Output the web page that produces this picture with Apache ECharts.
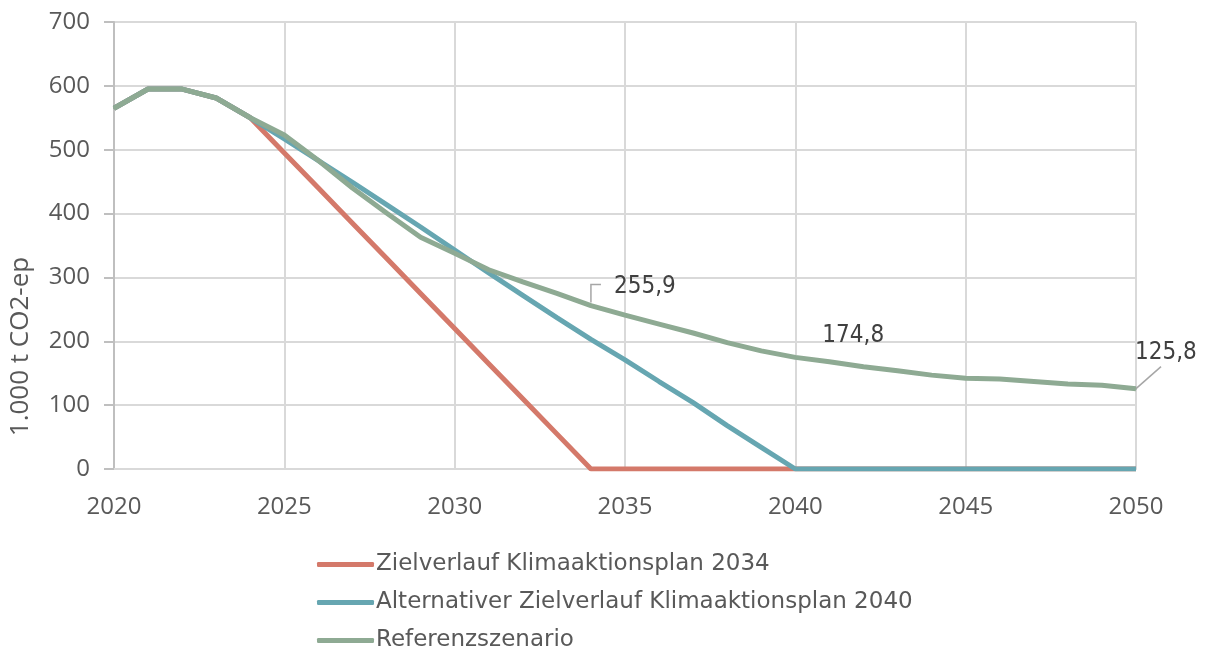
<!DOCTYPE html>
<html>
<head>
<meta charset="utf-8">
<script src="https://cdn.jsdelivr.net/npm/echarts@6/dist/echarts.min.js"></script>
<style>
  html, body { margin: 0; padding: 0; background: #ffffff; }
  #chart { width: 1209px; height: 650px; }
</style>
</head>
<body>
<div id="chart"></div>
<script>
// Years on the x axis
const years = [2020, 2021, 2022, 2023, 2024, 2025, 2026, 2027, 2028, 2029,
               2030, 2031, 2032, 2033, 2034, 2035, 2036, 2037, 2038, 2039,
               2040, 2041, 2042, 2043, 2044, 2045, 2046, 2047, 2048, 2049, 2050];

// Emissions in 1.000 t CO2-ep
const zielverlauf2034 = [565, 595, 595, 581, 550, 495, 440, 385, 330, 275,
                         220, 165, 110, 55, 0, 0, 0, 0, 0, 0,
                         0, 0, 0, 0, 0, 0, 0, 0, 0, 0, 0];
const zielverlauf2040 = [565, 595, 595, 581, 550, 517, 483, 449, 414, 379,
                         343, 307, 272, 237, 203, 171, 137, 104, 68, 34,
                         0, 0, 0, 0, 0, 0, 0, 0, 0, 0, 0];
const referenz = [565, 595, 595, 581, 550, 523, 483, 440, 401, 363,
                  338, 312, 293, 275, 255.9, 241, 227, 213, 198, 185,
                  174.8, 168, 160, 154, 147, 142, 141, 137, 133, 131, 125.8];

// Years whose reference value gets a data label
const labelledYears = [2034, 2040, 2050];

const seriesNames = [
  'Zielverlauf Klimaaktionsplan 2034',
  'Alternativer Zielverlauf Klimaaktionsplan 2040',
  'Referenzszenario'
];

// Label offsets (px) relative to the labelled point
const labelShift = { 2034: [22, -19], 2040: [26, -22], 2050: [-2, -36] };
// Leader line shapes (px offsets from the labelled point)
const leaderShapes = {
  2034: [[0, -3], [0, -21], [10, -21]],
  2050: [[0, 0], [25, -22]]
};

const pairs = vals => years.map((y, i) => [y, vals[i]]);
const fmt = v => v.toFixed(1).replace('.', ',');

const chart = echarts.init(document.getElementById('chart'), null, { renderer: 'canvas' });

const axisFont = { fontFamily: 'Open Sans', fontSize: 24, color: '#595959' };
const gridColor = '#d9d9d9';

chart.setOption({
  animation: false,
  grid: { left: 110, right: 73, top: 22, bottom: 181, containLabel: false },
  xAxis: {
    type: 'value',
    min: 2020, max: 2050, interval: 5,
    axisLine: { show: true, lineStyle: { color: gridColor, width: 2 } },
    axisTick: { show: false },
    axisLabel: Object.assign({ margin: 26, formatter: v => String(v) }, axisFont),
    splitLine: { show: true, lineStyle: { color: gridColor, width: 2 } }
  },
  yAxis: {
    type: 'value',
    min: 0, max: 700, interval: 100,
    name: '1.000 t CO2-ep',
    nameLocation: 'middle',
    nameGap: 80,
    nameRotate: 90,
    nameTextStyle: {
      fontFamily: 'Open Sans', fontSize: 26, color: '#595959',
      padding: [0, 202, 0, 0]
    },
    axisLine: { show: true, lineStyle: { color: '#bfbfbf', width: 2 } },
    axisTick: { show: true, length: 10, lineStyle: { color: '#bfbfbf', width: 2 } },
    axisLabel: Object.assign({ margin: 24 }, axisFont),
    splitLine: { show: true, lineStyle: { color: gridColor, width: 2 } }
  },
  legend: {
    orient: 'vertical',
    left: 312,
    top: 548,
    height: 200,
    itemWidth: 57,
    itemHeight: 5,
    itemGap: 15,
    icon: 'roundRect',
    textStyle: { fontFamily: 'DejaVu Sans', fontSize: 23, color: '#595959', padding: [0, 0, 0, -3] },
    data: seriesNames
  },
  series: [
    {
      name: seriesNames[0],
      type: 'line',
      data: pairs(zielverlauf2034),
      showSymbol: false,
      symbol: 'none',
      z: 2,
      lineStyle: { color: '#d4796a', width: 5 },
      itemStyle: { color: '#d4796a' }
    },
    {
      name: seriesNames[1],
      type: 'line',
      data: pairs(zielverlauf2040),
      showSymbol: false,
      symbol: 'none',
      z: 3,
      lineStyle: { color: '#66a6b1', width: 5 },
      itemStyle: { color: '#66a6b1' }
    },
    {
      name: seriesNames[2],
      type: 'line',
      data: pairs(referenz).map(p => labelledYears.includes(p[0])
        ? {
            value: p,
            label: {
              show: true,
              position: 'right',
              distance: 0,
              formatter: d => fmt(d.value[1]),
              fontFamily: 'DejaVu Sans Condensed',
              fontSize: 24,
              color: '#404040'
            }
          }
        : p),
      showSymbol: true,
      showAllSymbol: true,
      symbol: 'circle',
      symbolSize: 2,
      z: 4,
      lineStyle: { color: '#8eaa93', width: 5 },
      itemStyle: { color: '#8eaa93' },
      labelLayout: params => {
        const yr = years[params.dataIndex];
        const s = labelShift[yr] || [0, 0];
        return { dx: s[0], dy: s[1] };
      }
    }
  ]
});

// Leader lines from the labelled reference points to their labels
const leaders = Object.keys(leaderShapes).map(k => {
  const yr = Number(k);
  const base = chart.convertToPixel({ gridIndex: 0 }, [yr, referenz[years.indexOf(yr)]]);
  return {
    type: 'polyline',
    z: 10,
    silent: true,
    shape: { points: leaderShapes[k].map(o => [base[0] + o[0], base[1] + o[1]]) },
    style: { stroke: '#a6a6a6', lineWidth: 1.5, fill: null }
  };
});
chart.setOption({ graphic: leaders });
</script>
</body>
</html>
